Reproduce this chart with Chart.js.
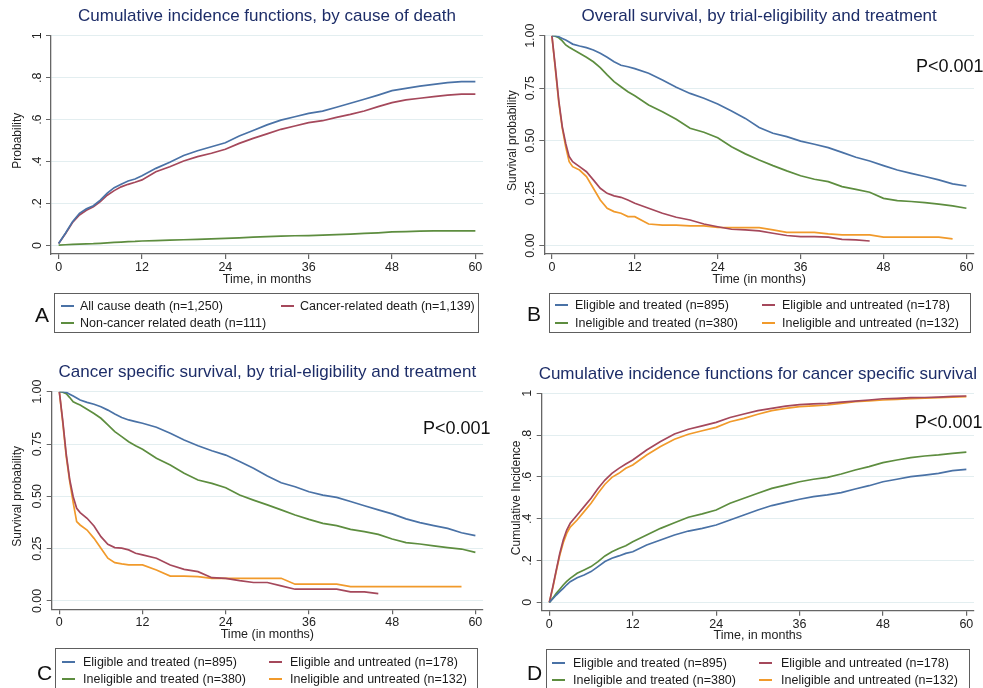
<!DOCTYPE html>
<html>
<head>
<meta charset="utf-8">
<script src="https://cdn.jsdelivr.net/npm/chart.js@4.4.1/dist/chart.umd.min.js"></script>
<style>
  body { margin: 0; background: #fff; width: 983px; height: 688px; overflow: hidden; position: relative;
         font-family: "Liberation Sans", Arial, Helvetica, sans-serif; }
  canvas { position: absolute; }
  .legend { position: absolute; border: 1.3px solid #5e5e5e; box-sizing: border-box; background: #fff; }
  .item { position: absolute; font-size: 12.5px; color: #1a1a1a; white-space: nowrap; line-height: 14px; }
  .swatch { position: absolute; height: 2px; }
  .letter { position: absolute; font-size: 21px; color: #111; line-height: 22px; }
</style>
</head>
<body>
<canvas id="cA" width="490" height="340" style="left:0;top:0"></canvas>
<canvas id="cB" width="493" height="340" style="left:490px;top:0"></canvas>
<canvas id="cC" width="490" height="348" style="left:0;top:340px"></canvas>
<canvas id="cD" width="493" height="348" style="left:490px;top:340px"></canvas>
<script>
// time grids (months)
const tA = [0,1,2,3,4,5,6,7,8,9,10,11,12,14,16,18,20,22,24,26,28,30,32,34,36,38,40,42,44,46,48,50,52,54,56,58,60];
const tKM = [0,0.5,1,1.5,2,2.5,3,4,5,6,7,8,9,10,11,12,14,16,18,20,22,24,26,28,30,32,34,36,38,40,42,44,46,48,50,52,54,56,58,60];

const xTicks = [0, 12, 24, 36, 48, 60];
const yTicksProb = [0, 0.2, 0.4, 0.6, 0.8, 1];
const yLabelsProb = ['0', '.2', '.4', '.6', '.8', '1'];
const yTicksSurv = [0, 0.25, 0.5, 0.75, 1];
const yLabelsSurv = ['0.00', '0.25', '0.50', '0.75', '1.00'];

// A: cumulative incidence by cause of death
const aAllCause = [0.01,0.06,0.114,0.154,0.175,0.19,0.217,0.25,0.276,0.292,0.308,0.317,0.333,0.368,0.397,0.429,0.452,0.471,0.49,0.522,0.548,0.575,0.598,0.614,0.63,0.641,0.659,0.678,0.697,0.717,0.738,0.749,0.76,0.768,0.776,0.781,0.781];
const aCancer = [0.01,0.058,0.11,0.146,0.168,0.185,0.21,0.24,0.262,0.28,0.292,0.302,0.313,0.352,0.376,0.403,0.424,0.44,0.459,0.487,0.511,0.532,0.554,0.57,0.586,0.595,0.611,0.625,0.641,0.662,0.681,0.694,0.702,0.71,0.717,0.722,0.722];
const aNonCancer = [0.002,0.004,0.006,0.007,0.008,0.009,0.011,0.013,0.015,0.017,0.019,0.02,0.022,0.024,0.026,0.028,0.03,0.032,0.034,0.037,0.04,0.043,0.045,0.047,0.048,0.05,0.052,0.055,0.058,0.061,0.065,0.067,0.069,0.07,0.07,0.07,0.07];

// B: overall survival
const bEligTreated = [1,1,0.995,0.987,0.979,0.97,0.96,0.951,0.943,0.932,0.916,0.897,0.876,0.859,0.852,0.843,0.821,0.789,0.754,0.725,0.702,0.675,0.641,0.606,0.563,0.535,0.519,0.498,0.483,0.467,0.444,0.421,0.403,0.381,0.36,0.344,0.329,0.313,0.294,0.284];
const bEligUntreated = [1,0.85,0.69,0.567,0.487,0.424,0.4,0.376,0.352,0.313,0.273,0.249,0.237,0.23,0.217,0.202,0.178,0.154,0.135,0.122,0.103,0.09,0.078,0.075,0.07,0.059,0.048,0.043,0.043,0.04,0.03,0.027,0.022,null,null,null,null,null,null,null];
const bInelTreated = [1,0.998,0.99,0.975,0.956,0.945,0.935,0.916,0.897,0.876,0.848,0.813,0.781,0.757,0.733,0.714,0.67,0.638,0.602,0.559,0.54,0.514,0.471,0.437,0.408,0.381,0.356,0.333,0.316,0.305,0.281,0.268,0.254,0.225,0.214,0.21,0.205,0.198,0.189,0.178];
const bInelUntreated = [1,0.84,0.68,0.56,0.47,0.4,0.376,0.36,0.329,0.273,0.217,0.178,0.162,0.154,0.138,0.138,0.103,0.098,0.098,0.094,0.094,0.087,0.086,0.086,0.086,0.075,0.063,0.063,0.063,0.056,0.051,0.051,0.051,0.04,0.04,0.04,0.04,0.04,0.032,null];

// C: cancer specific survival
const cEligTreated = [1,1,0.997,0.988,0.979,0.97,0.96,0.949,0.94,0.928,0.912,0.893,0.877,0.865,0.857,0.849,0.83,0.801,0.769,0.742,0.718,0.697,0.666,0.634,0.597,0.565,0.546,0.522,0.506,0.495,0.475,0.455,0.435,0.416,0.392,0.374,0.36,0.347,0.326,0.312];
const cEligUntreated = [1,0.86,0.7,0.58,0.498,0.443,0.422,0.395,0.358,0.307,0.271,0.255,0.252,0.244,0.228,0.22,0.204,0.172,0.151,0.14,0.111,0.108,0.097,0.088,0.088,0.072,0.056,0.056,0.056,0.056,0.043,0.043,0.035,null,null,null,null,null,null,null];
const cInelTreated = [1,0.998,0.99,0.972,0.952,0.944,0.936,0.916,0.896,0.873,0.841,0.809,0.785,0.761,0.742,0.725,0.682,0.65,0.61,0.578,0.562,0.541,0.506,0.482,0.459,0.435,0.411,0.39,0.371,0.36,0.342,0.331,0.318,0.296,0.279,0.272,0.263,0.255,0.248,0.232];
const cInelUntreated = [1,0.85,0.69,0.57,0.47,0.379,0.363,0.339,0.299,0.252,0.204,0.183,0.177,0.172,0.172,0.172,0.148,0.119,0.119,0.116,0.108,0.108,0.108,0.108,0.108,0.108,0.08,0.08,0.08,0.08,0.068,0.068,0.068,0.068,0.068,0.068,0.068,0.068,0.068,null];

// D: cumulative incidence, cancer specific
const dEligTreated = [0,0.017,0.035,0.051,0.067,0.084,0.099,0.118,0.131,0.147,0.171,0.195,0.211,0.222,0.234,0.242,0.274,0.298,0.322,0.341,0.354,0.37,0.394,0.418,0.442,0.463,0.478,0.493,0.506,0.514,0.525,0.542,0.558,0.577,0.589,0.601,0.609,0.617,0.63,0.636];
const dEligUntreated = [0,0.075,0.155,0.234,0.298,0.346,0.378,0.418,0.458,0.498,0.545,0.585,0.617,0.641,0.662,0.681,0.729,0.769,0.805,0.828,0.844,0.861,0.884,0.901,0.917,0.928,0.939,0.946,0.949,0.952,0.958,0.963,0.968,0.974,0.976,0.979,0.98,0.982,0.985,0.987];
const dInelTreated = [0,0.02,0.043,0.063,0.083,0.1,0.115,0.139,0.155,0.171,0.195,0.222,0.242,0.258,0.271,0.29,0.322,0.354,0.381,0.407,0.423,0.442,0.474,0.498,0.522,0.545,0.561,0.577,0.589,0.598,0.614,0.633,0.649,0.668,0.681,0.692,0.7,0.705,0.713,0.719];
const dInelUntreated = [0,0.07,0.15,0.225,0.285,0.33,0.36,0.394,0.434,0.474,0.522,0.565,0.598,0.617,0.641,0.657,0.705,0.745,0.78,0.804,0.821,0.837,0.864,0.88,0.9,0.917,0.928,0.936,0.94,0.944,0.952,0.96,0.964,0.968,0.971,0.974,0.977,0.979,0.982,0.984];

const groupLabels = ['Eligible and treated (n=895)', 'Eligible and untreated (n=178)',
                     'Ineligible and treated (n=380)', 'Ineligible and untreated (n=132)'];
const causeLabels = ['All cause death (n=1,250)', 'Cancer-related death (n=1,139)', 'Non-cancer related death (n=111)'];

const BLUE = '#4a72a6', RED = '#a5485b', GREEN = '#5d8d3f', ORANGE = '#f19a2b';
const AXIS = '#666666', GRID = '#e3eef0';
const FONT = '"Liberation Sans", Arial, Helvetica, sans-serif';

function pts(times, vals) {
    return times.map((t, i) => ({ x: t, y: vals[i] }));
}

// titles, rotated y tick labels (Stata style), axis titles, p-value
const stataText = {
    id: 'stataText',
    afterDraw(chart, args, o) {
        const { ctx, chartArea: a, scales: { y } } = chart;
        const cx = (a.left + a.right) / 2;
        ctx.save();
        ctx.textAlign = 'center';
        ctx.textBaseline = 'middle';
        ctx.fillStyle = '#1d2d68';
        ctx.font = '17px ' + FONT;
        ctx.fillText(o.title, cx, o.titleY);

        ctx.fillStyle = '#222';
        ctx.font = '12.5px ' + FONT;
        ctx.fillText(o.xTitle, cx, a.bottom + 25.3);

        o.yTicks.forEach((v, i) => {
            ctx.save();
            ctx.translate(a.left - 13.8, y.getPixelForValue(v));
            ctx.rotate(-Math.PI / 2);
            ctx.fillText(o.yLabels[i], 0, 0);
            ctx.restore();
        });

        ctx.save();
        ctx.font = '12px ' + FONT;
        ctx.translate(a.left - o.yTitleDx, (y.getPixelForValue(0) + y.getPixelForValue(1)) / 2);
        ctx.rotate(-Math.PI / 2);
        ctx.fillText(o.yTitle, 0, 0);
        ctx.restore();

        if (o.pText) {
            ctx.fillStyle = '#111';
            ctx.font = '18px ' + FONT;
            ctx.textAlign = 'left';
            ctx.fillText(o.pText, o.pPos[0], o.pPos[1]);
        }
        ctx.restore();
    }
};

function makeChart(id, datasets, box, text) {
    new Chart(document.getElementById(id), {
        type: 'line',
        data: { datasets: datasets.map(d => ({
            data: d.data, borderColor: d.color, borderWidth: 1.7,
            pointRadius: 0, tension: 0, fill: false
        })) },
        options: {
            responsive: false,
            animation: false,
            devicePixelRatio: 1,
            layout: { padding: { left: 0, top: box.top, right: box.right, bottom: 0 } },
            plugins: { legend: { display: false }, tooltip: { enabled: false }, stataText: text },
            scales: {
                x: {
                    type: 'linear', min: -1.1, max: 61.1,
                    afterBuildTicks: s => { s.ticks = xTicks.map(v => ({ value: v })); },
                    afterFit: s => { s.height = box.xHeight; },
                    border: { color: AXIS, width: 1.3 },
                    grid: { drawOnChartArea: false, drawTicks: true, tickLength: 5, tickColor: AXIS, lineWidth: 1.2 },
                    ticks: { padding: 1, color: '#222', font: { family: FONT, size: 12.5 }, maxRotation: 0 }
                },
                y: {
                    type: 'linear', min: -0.04, max: 1,
                    afterBuildTicks: s => { s.ticks = text.yTicks.map(v => ({ value: v })); },
                    afterFit: s => { s.width = box.yWidth; },
                    border: { color: AXIS, width: 1.3 },
                    grid: { color: GRID, lineWidth: 1, drawTicks: true, tickLength: 5, tickColor: AXIS },
                    ticks: { display: false }
                }
            }
        },
        plugins: [stataText]
    });
}

makeChart('cA', [
    { data: pts(tA, aAllCause), color: BLUE },
    { data: pts(tA, aCancer), color: RED },
    { data: pts(tA, aNonCancer), color: GREEN }
], { top: 35.7, right: 7, yWidth: 51, xHeight: 86 }, {
    title: 'Cumulative incidence functions, by cause of death', titleY: 16,
    xTitle: 'Time, in months', yTitle: 'Probability', yTitleDx: 33,
    yTicks: yTicksProb, yLabels: yLabelsProb
});

makeChart('cB', [
    { data: pts(tKM, bEligTreated), color: BLUE },
    { data: pts(tKM, bEligUntreated), color: RED },
    { data: pts(tKM, bInelTreated), color: GREEN },
    { data: pts(tKM, bInelUntreated), color: ORANGE }
], { top: 35.7, right: 9, yWidth: 54.3, xHeight: 86 }, {
    title: 'Overall survival, by trial-eligibility and treatment', titleY: 16,
    xTitle: 'Time (in months)', yTitle: 'Survival probability', yTitleDx: 31.6,
    yTicks: yTicksSurv, yLabels: yLabelsSurv, pText: 'P<0.001', pPos: [426, 67]
});

makeChart('cC', [
    { data: pts(tKM, cEligTreated), color: BLUE },
    { data: pts(tKM, cEligUntreated), color: RED },
    { data: pts(tKM, cInelTreated), color: GREEN },
    { data: pts(tKM, cInelUntreated), color: ORANGE }
], { top: 51.7, right: 7, yWidth: 51.7, xHeight: 78.7 }, {
    title: 'Cancer specific survival, by trial-eligibility and treatment', titleY: 32.3,
    xTitle: 'Time (in months)', yTitle: 'Survival probability', yTitleDx: 33.7,
    yTicks: yTicksSurv, yLabels: yLabelsSurv, pText: 'P<0.001', pPos: [423, 89]
});

makeChart('cD', [
    { data: pts(tKM, dEligTreated), color: BLUE },
    { data: pts(tKM, dEligUntreated), color: RED },
    { data: pts(tKM, dInelTreated), color: GREEN },
    { data: pts(tKM, dInelUntreated), color: ORANGE }
], { top: 53.3, right: 9, yWidth: 51.7, xHeight: 77.3 }, {
    title: 'Cumulative incidence functions for cancer specific survival', titleY: 34.3,
    xTitle: 'Time, in months', yTitle: 'Cumulative Incidence', yTitleDx: 25,
    yTicks: yTicksProb, yLabels: yLabelsProb, pText: 'P<0.001', pPos: [425, 83.5]
});

// legends below each panel
function addLegend(letter, box, rows, cols, items) {
    const b = document.createElement('div');
    b.className = 'legend';
    Object.assign(b.style, { left: box[0] + 'px', top: box[1] + 'px', width: box[2] + 'px', height: box[3] + 'px' });
    document.body.appendChild(b);
    items.forEach(it => {
        const sw = document.createElement('div');
        sw.className = 'swatch';
        Object.assign(sw.style, { left: cols[it.col][0] + 'px', width: '13px', top: (rows[it.row] - 1) + 'px', background: it.color });
        document.body.appendChild(sw);
        const tx = document.createElement('div');
        tx.className = 'item';
        tx.textContent = it.label;
        Object.assign(tx.style, { left: cols[it.col][1] + 'px', top: (rows[it.row] - 7) + 'px' });
        document.body.appendChild(tx);
    });
    const L = document.createElement('div');
    L.className = 'letter';
    L.textContent = letter.text;
    Object.assign(L.style, { left: letter.x + 'px', top: (letter.y - 11) + 'px' });
    document.body.appendChild(L);
}

const fourItems = colors => groupLabels.map((label, i) => ({ label, color: colors[i], col: i % 2, row: Math.floor(i / 2) }));

addLegend({ text: 'A', x: 35, y: 315 }, [54, 293, 425, 40], [305.7, 323], [[61, 80], [281, 300]], [
    { label: causeLabels[0], color: BLUE, col: 0, row: 0 },
    { label: causeLabels[1], color: RED, col: 1, row: 0 },
    { label: causeLabels[2], color: GREEN, col: 0, row: 1 }
]);
addLegend({ text: 'B', x: 527, y: 314 }, [549, 293, 422, 40], [305.3, 323.3], [[555, 575], [762, 782]],
    fourItems([BLUE, RED, GREEN, ORANGE]));
addLegend({ text: 'C', x: 37, y: 673 }, [55, 648, 423, 46], [661.7, 679.3], [[62, 83], [269, 290]],
    fourItems([BLUE, RED, GREEN, ORANGE]));
addLegend({ text: 'D', x: 527, y: 673 }, [546, 649, 424, 46], [662.7, 680], [[552, 573], [759, 781]],
    fourItems([BLUE, RED, GREEN, ORANGE]));
</script>
</body>
</html>
